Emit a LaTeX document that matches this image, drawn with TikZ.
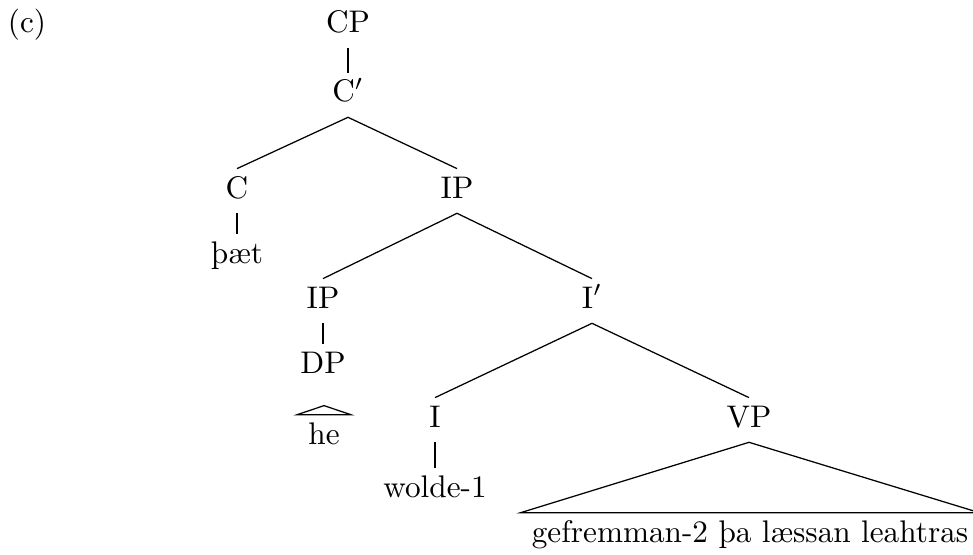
\documentclass[tikz,border=0pt]{standalone}
\usepackage{fontspec}
\usetikzlibrary{calc}
\begin{document}
\begin{tikzpicture}[x=0.32pt,y=-0.32pt,
  lab/.style={anchor=base,inner xsep=3.33pt,inner ysep=2.2pt,text height=7pt,text depth=2.5pt,font=\fontsize{10}{12}\selectfont},
  branch/.style={draw=black,line width=0.4pt}]
\useasboundingbox (0,0) rectangle (973,554);
\node[lab] (ex) at (27,33) {(c)};
\node[lab] (CP) at (348,33) {CP};
\node[lab] (Cb) at (348,102) {C$'$};
\node[lab] (C) at (237,198) {C};
\node[lab] (IPa) at (457,198) {IP};
\node[lab] (baet) at (237,263) {þæt};
\node[lab] (IPb) at (323,308) {IP};
\node[lab] (Ib) at (592,308) {I$'$};
\node[lab] (DP) at (323,373) {DP};
\node[lab] (he) at (324,444) {he};
\node[lab] (I) at (435,427) {I};
\node[lab] (VP) at (749,427) {VP};
\node[lab] (wolde) at (435,497) {wolde-1};
\node[lab] (gef) at (750,542) {gefremman-2 þa læssan leahtras};
\coordinate (heroof) at ($(he.north)+(0,-9)$);
\draw[branch] (CP.south) -- (Cb.north);
\draw[branch] (Cb.south) -- (C.north);
\draw[branch] (Cb.south) -- (IPa.north);
\draw[branch] (C.south) -- (baet.north);
\draw[branch] (IPa.south) -- (IPb.north);
\draw[branch] (IPa.south) -- (Ib.north);
\draw[branch] (IPb.south) -- (DP.north);
\draw[branch] (Ib.south) -- (I.north);
\draw[branch] (Ib.south) -- (VP.north);
\draw[branch] (I.south) -- (wolde.north);
\draw[branch] (heroof) -- (he.north west) -- (he.north east) -- cycle;
\draw[branch] (VP.south) -- (gef.north west) -- (gef.north east) -- cycle;
\end{tikzpicture}
\end{document}
